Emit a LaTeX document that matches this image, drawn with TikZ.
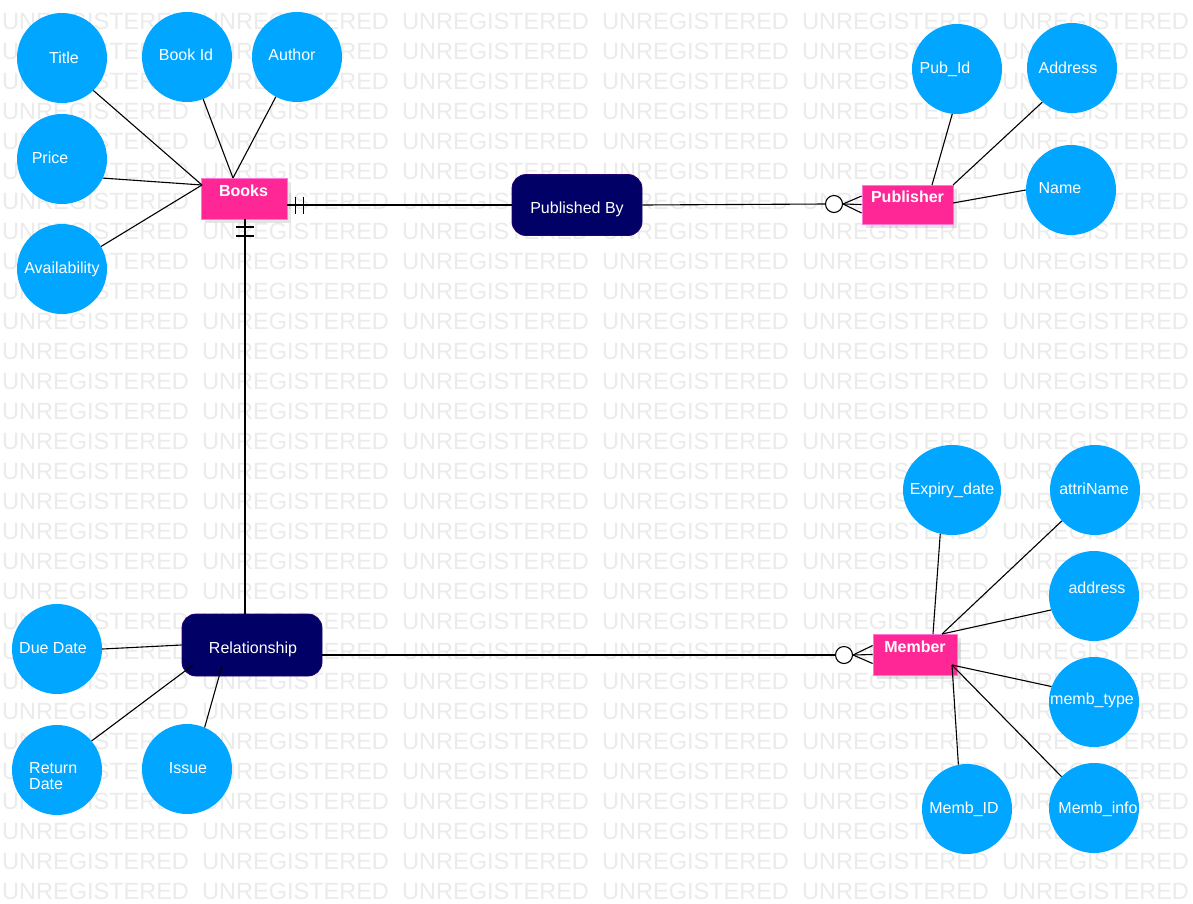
\documentclass[tikz,border=0pt]{standalone}
\usepackage{fontspec}
\setmainfont{Liberation Sans}
\usetikzlibrary{calc,shadows,shapes.geometric}

\definecolor{attrblue}{RGB}{0,166,255}
\definecolor{entpink}{RGB}{255,38,150}
\definecolor{entedge}{RGB}{255,120,215}
\definecolor{relnavy}{RGB}{0,0,102}
\definecolor{reledge}{RGB}{40,0,110}
\definecolor{wmgray}{RGB}{235,235,235}

\tikzset{
  wm/.style={text=wmgray, font=\fontsize{23.5}{23.5}\selectfont, inner sep=0pt, anchor=base west},
  attr/.style={circle, fill=attrblue, minimum size=90pt, inner sep=0pt},
  attrwide/.style={ellipse, fill=attrblue, minimum width=98pt, minimum height=90pt, inner sep=0pt},
  atext/.style={text=white, font=\fontsize{16}{16}\selectfont, text height=11.5pt, text depth=0pt, inner sep=0pt},
  entity/.style={rectangle, fill=entpink, draw=entedge, line width=0.8pt, inner sep=0pt,
    drop shadow={shadow xshift=4pt, shadow yshift=-4pt, fill=black, opacity=0.10}},
  etext/.style={text=white, font=\bfseries\fontsize{16}{16}\selectfont, text height=11.5pt, text depth=0pt, inner sep=0pt},
  relbox/.style={rectangle, rounded corners=14pt, fill=relnavy, draw=reledge, line width=0.8pt, inner sep=0pt},
  conn/.style={draw=black, line width=1.1pt},
  optcircle/.style={circle, draw=black, fill=white, line width=1.1pt, minimum size=17pt, inner sep=0pt}
}

\begin{document}
\begin{tikzpicture}[x=1pt,y=-1pt]
\useasboundingbox[fill=white] (0,0) rectangle (1193,903);

% tiled background lettering
\foreach \r in {0,...,29}{
  \foreach \c in {0,...,5}{
    \node[wm] (wm-\r-\c) at ({2+200*\c},{29+30*\r}) {UNREGISTERED};
  }
}

% ---------- entities ----------
\node[entity, minimum width=86pt, minimum height=41pt] (books) at (244,198.5) {};
\node[etext] (books-t) at (243.5,191) {Books};
\node[entity, minimum width=91pt, minimum height=39pt] (publisher) at (907.5,204.5) {};
\node[etext] (publisher-t) at (907.5,197) {Publisher};
\node[entity, minimum width=84pt, minimum height=41pt] (member) at (915,654.5) {};
\node[etext] (member-t) at (915,647) {Member};

% ---------- relationships ----------
\node[relbox, minimum width=130pt, minimum height=61pt] (pubby) at (577,205) {};
\node[atext] (pubby-t) at (577,208) {Published By};
\node[relbox, minimum width=140pt, minimum height=62pt] (rel) at (252,645) {};
\node[atext] (rel-t) at (253,648) {Relationship};

% ---------- attributes of Books ----------
\node[attr] (title) at (62,58) {};
\node[atext] (title-t) at (64,58) {Title};
\node[attr] (bookid) at (187,57) {};
\node[atext] (bookid-t) at (186,55) {Book Id};
\node[attr] (author) at (297,57) {};
\node[atext] (author-t) at (292,55) {Author};
\node[attr] (price) at (62,159) {};
\node[atext] (price-t) at (50,158) {Price};
\node[attr] (avail) at (62,269) {};
\node[atext] (avail-t) at (62,268) {Availability};

% ---------- attributes of Publisher ----------
\node[attr] (pubid) at (957,69) {};
\node[atext] (pubid-t) at (945,68) {Pub\_Id};
\node[attr] (paddress) at (1072,68) {};
\node[atext] (paddress-t) at (1068,68) {Address};
\node[attr] (pname) at (1071,190) {};
\node[atext] (pname-t) at (1060,188) {Name};

% ---------- attributes of Member ----------
\node[attrwide] (expiry) at (952,490) {};
\node[atext] (expiry-t) at (952,489) {Expiry\_date};
\node[attr] (attriname) at (1095,490) {};
\node[atext] (attriname-t) at (1094,489) {attriName};
\node[attr] (maddress) at (1094,596) {};
\node[atext] (maddress-t) at (1097,588) {address};
\node[attr] (membtype) at (1094,702) {};
\node[atext] (membtype-t) at (1092,699) {memb\_type};
\node[attr] (membid) at (967,809) {};
\node[atext] (membid-t) at (964,808) {Memb\_ID};
\node[attr] (membinfo) at (1094,808) {};
\node[atext] (membinfo-t) at (1098,808) {Memb\_info};

% ---------- attributes of Relationship ----------
\node[attr] (duedate) at (57,649) {};
\node[atext] (duedate-t) at (53,648) {Due Date};
\node[attr] (retdate) at (57,770) {};
\node[text=white, font=\fontsize{16}{16}\selectfont, align=left, inner sep=0pt, anchor=north west]
  (retdate-t) at (29,762.25) {Return\\Date};
\node[attr] (issue) at (187,769) {};
\node[atext] (issue-t) at (188,768) {Issue};

% ---------- attachment points ----------
\coordinate (bL) at (202,185);
\coordinate (bT) at (233,178);
\coordinate (pT) at (932,185);
\coordinate (pTR) at (953,185);
\coordinate (pR) at (953,203);
\coordinate (mT) at (933,634);
\coordinate (mTR) at (942,634);
\coordinate (mR) at (952,665);
\coordinate (rBL) at (193,665);
\coordinate (rB) at (222,666);

% ---------- attribute connectors ----------
\draw[conn] (title.-46) -- (bL);
\draw[conn] (price.-25) -- (bL);
\draw[conn] (avail.30) -- (bL);
\draw[conn] (bookid.-69) -- (bT);
\draw[conn] (author.-118) -- (bT);

\draw[conn] (pubid.-96) -- (pT);
\draw[conn] (paddress.-131) -- (pTR);
\draw[conn] (pname.180) -- (pR);

\draw[conn] (expiry.-105) -- (mT);
\draw[conn] (attriname.-137) -- (mTR);
\draw[conn] (maddress.-162) -- (mTR);
\draw[conn] (membtype.160) -- (mR);
\draw[conn] (membid.101) -- (mR);
\draw[conn] (membinfo.136) -- (mR);

\draw[conn] (duedate.0) -- (rel.west);
\draw[conn] (retdate.40) -- (rBL);
\draw[conn] (issue.67) -- (rB);

% ---------- Books -- Published By -- Publisher ----------
\coordinate (bE) at (pubby.west -| books.east);
\draw[conn] (bE) -- (pubby.west);
\draw[conn] ($(bE)+(8,-8.5)$) -- ++(0,17);
\draw[conn] ($(bE)+(16,-8.5)$) -- ++(0,17);

\node[optcircle] (pc) at (834,204) {};
\draw[conn] (pubby.east) -- (pc.west);
\draw[conn] (pc.east) -- ($(publisher.west)+(0,-8.5)$);
\draw[conn] (pc.east) -- (publisher.west);
\draw[conn] (pc.east) -- ($(publisher.west)+(0,8.5)$);

% ---------- Books -- Relationship -- Member ----------
\coordinate (bS) at (245,219);
\draw[conn] (bS) -- (bS |- rel.north);
\draw[conn] ($(bS)+(-9,8)$) -- ++(18,0);
\draw[conn] ($(bS)+(-9,17)$) -- ++(18,0);

\node[optcircle] (mc) at (844,655) {};
\draw[conn] (rel.east |- mc.west) -- (mc.west);
\draw[conn] (mc.east) -- ($(member.west)+(0,-9)$);
\draw[conn] (mc.east) -- (member.west);
\draw[conn] (mc.east) -- ($(member.west)+(0,9)$);
\end{tikzpicture}
\end{document}
